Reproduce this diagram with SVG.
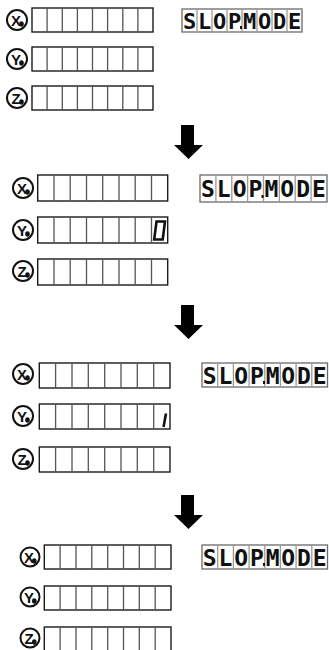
<svg xmlns="http://www.w3.org/2000/svg" width="329" height="650" viewBox="0 0 329 650">
<style>
.box{fill:#fff;stroke:#1a1a1a;stroke-width:1.4}
.div{fill:none;stroke:#555;stroke-width:1.3}
.lbox{fill:#fff;stroke:#6a6a6a;stroke-width:1.3}
.ldiv{fill:none;stroke:#9a9a9a;stroke-width:1.3}
.lcd{font-family:"DejaVu Sans Mono",monospace;font-weight:bold;font-size:23px;fill:#111;text-anchor:middle}
.lcd1{font-size:22px}
.ic{fill:#fff;stroke:#111;stroke-width:2}
.il{font-family:"Liberation Sans",Arial,sans-serif;font-weight:bold;font-size:15px;fill:#111;text-anchor:middle}
.sub{fill:#111}
.arrow{fill:#000}
.seg{fill:none;stroke:#111;stroke-width:2.6;stroke-linejoin:miter}
</style>
<rect width="329" height="650" fill="#fff"/>

<!-- Panel 1 -->
<g id="p1-x">
<circle class="ic" cx="17" cy="20" r="10"/><text class="il" x="16" y="25.5">X</text><ellipse class="sub" cx="21.5" cy="24" rx="2.3" ry="2.8"/>
<rect class="box" x="32" y="8" width="121" height="24"/>
<path class="div" d="M47.1,8v24M62.3,8v24M77.4,8v24M92.5,8v24M107.6,8v24M122.8,8v24M137.9,8v24"/>
</g>
<g id="p1-y">
<circle class="ic" cx="17" cy="59" r="10"/><text class="il" x="16" y="64.5">Y</text><ellipse class="sub" cx="21.5" cy="63" rx="2.3" ry="2.8"/>
<rect class="box" x="32" y="47" width="121" height="24"/>
<path class="div" d="M47.1,47v24M62.3,47v24M77.4,47v24M92.5,47v24M107.6,47v24M122.8,47v24M137.9,47v24"/>
</g>
<g id="p1-z">
<circle class="ic" cx="17" cy="98" r="10"/><text class="il" x="16" y="103.5">Z</text><ellipse class="sub" cx="21.5" cy="102" rx="2.3" ry="2.8"/>
<rect class="box" x="32" y="86" width="121" height="24"/>
<path class="div" d="M47.1,86v24M62.3,86v24M77.4,86v24M92.5,86v24M107.6,86v24M122.8,86v24M137.9,86v24"/>
</g>
<g id="p1-disp">
<rect class="lbox" x="182" y="9" width="120" height="23"/>
<path class="ldiv" d="M197,9v23M212,9v23M227,9v23M242,9v23M257,9v23M272,9v23M287,9v23"/>
<text class="lcd lcd1" x="189.5" y="28.5">S</text><text class="lcd lcd1" x="204.5" y="28.5">L</text><text class="lcd lcd1" x="219.5" y="28.5">O</text><text class="lcd lcd1" x="234.5" y="28.5">P</text>
<text class="lcd lcd1" x="249.5" y="28.5">M</text><text class="lcd lcd1" x="264.5" y="28.5">O</text><text class="lcd lcd1" x="279.5" y="28.5">D</text><text class="lcd lcd1" x="294.5" y="28.5">E</text>
<rect class="sub" x="240" y="26" width="2" height="3"/>
</g>

<!-- Panel 2 -->
<g id="p2-x">
<circle class="ic" cx="23" cy="188" r="10"/><text class="il" x="22" y="193.5">X</text><ellipse class="sub" cx="27.5" cy="192" rx="2.3" ry="2.8"/>
<rect class="box" x="37.7" y="175" width="130" height="26"/>
<path class="div" d="M54,175v26M70.2,175v26M86.5,175v26M102.7,175v26M119,175v26M135.2,175v26M151.5,175v26"/>
</g>
<g id="p2-y">
<circle class="ic" cx="23" cy="230" r="10"/><text class="il" x="22" y="235.5">Y</text><ellipse class="sub" cx="27.5" cy="234" rx="2.3" ry="2.8"/>
<rect class="box" x="37.7" y="217" width="130" height="26"/>
<path class="div" d="M54,217v26M70.2,217v26M86.5,217v26M102.7,217v26M119,217v26M135.2,217v26M151.5,217v26"/>
<polygon class="seg" points="156.5,221.5 165,221.5 162.7,239.5 154.2,239.5"/>
</g>
<g id="p2-z">
<circle class="ic" cx="23" cy="271" r="10"/><text class="il" x="22" y="276.5">Z</text><ellipse class="sub" cx="27.5" cy="275" rx="2.3" ry="2.8"/>
<rect class="box" x="37.7" y="259" width="130" height="26"/>
<path class="div" d="M54,259v26M70.2,259v26M86.5,259v26M102.7,259v26M119,259v26M135.2,259v26M151.5,259v26"/>
</g>
<g id="p2-disp">
<rect class="lbox" x="200" y="175" width="127" height="27"/>
<path class="ldiv" d="M215.9,175v27M231.8,175v27M247.6,175v27M263.5,175v27M279.4,175v27M295.2,175v27M311.1,175v27"/>
<text class="lcd" x="208" y="197">S</text><text class="lcd" x="223.8" y="197">L</text><text class="lcd" x="239.7" y="197">O</text><text class="lcd" x="255.5" y="197">P</text>
<text class="lcd" x="271.4" y="197">M</text><text class="lcd" x="287.3" y="197">O</text><text class="lcd" x="303.2" y="197">D</text><text class="lcd" x="319" y="197">E</text>
<rect class="sub" x="261.5" y="195" width="2" height="3"/>
</g>

<!-- Panel 3 -->
<g id="p3-x">
<circle class="ic" cx="23" cy="374" r="10"/><text class="il" x="22" y="379.5">X</text><ellipse class="sub" cx="27.5" cy="378" rx="2.3" ry="2.8"/>
<rect class="box" x="39.3" y="363" width="130.7" height="25"/>
<path class="div" d="M55.6,363v25M72,363v25M88.3,363v25M104.7,363v25M121,363v25M137.3,363v25M153.7,363v25"/>
</g>
<g id="p3-y">
<circle class="ic" cx="23" cy="416" r="10"/><text class="il" x="22" y="421.5">Y</text><ellipse class="sub" cx="27.5" cy="420" rx="2.3" ry="2.8"/>
<rect class="box" x="39.3" y="404" width="130.7" height="25"/>
<path class="div" d="M55.6,404v25M72,404v25M88.3,404v25M104.7,404v25M121,404v25M137.3,404v25M153.7,404v25"/>
<path class="seg" stroke-width="3" d="M166,413.5L163.5,427"/>
</g>
<g id="p3-z">
<circle class="ic" cx="23" cy="459" r="10"/><text class="il" x="22" y="464.5">Z</text><ellipse class="sub" cx="27.5" cy="463" rx="2.3" ry="2.8"/>
<rect class="box" x="39.3" y="447" width="130.7" height="25"/>
<path class="div" d="M55.6,447v25M72,447v25M88.3,447v25M104.7,447v25M121,447v25M137.3,447v25M153.7,447v25"/>
</g>
<g id="p3-disp">
<rect class="lbox" x="202" y="363" width="125.5" height="24"/>
<path class="ldiv" d="M217.7,363v24M233.4,363v24M249.1,363v24M264.8,363v24M280.4,363v24M296.1,363v24M311.8,363v24"/>
<text class="lcd" x="209.8" y="383.5">S</text><text class="lcd" x="225.5" y="383.5">L</text><text class="lcd" x="241.2" y="383.5">O</text><text class="lcd" x="256.9" y="383.5">P</text>
<text class="lcd" x="272.6" y="383.5">M</text><text class="lcd" x="288.3" y="383.5">O</text><text class="lcd" x="304" y="383.5">D</text><text class="lcd" x="319.6" y="383.5">E</text>
<rect class="sub" x="263" y="381" width="2" height="3"/>
</g>

<!-- Panel 4 -->
<g id="p4-x">
<circle class="ic" cx="30" cy="557" r="9.5"/><text class="il" x="29" y="562.5">X</text><ellipse class="sub" cx="34.3" cy="561" rx="2.3" ry="2.8"/>
<rect class="box" x="44.3" y="545" width="126.7" height="24"/>
<path class="div" d="M60.1,545v24M76,545v24M91.8,545v24M107.7,545v24M123.5,545v24M139.3,545v24M155.2,545v24"/>
</g>
<g id="p4-y">
<circle class="ic" cx="30" cy="597" r="9.5"/><text class="il" x="29" y="602.5">Y</text><ellipse class="sub" cx="34.3" cy="601" rx="2.3" ry="2.8"/>
<rect class="box" x="44.3" y="586" width="126.7" height="24"/>
<path class="div" d="M60.1,586v24M76,586v24M91.8,586v24M107.7,586v24M123.5,586v24M139.3,586v24M155.2,586v24"/>
</g>
<g id="p4-z">
<circle class="ic" cx="30" cy="638" r="9.5"/><text class="il" x="29" y="643.5">Z</text><ellipse class="sub" cx="34.3" cy="642" rx="2.3" ry="2.8"/>
<rect class="box" x="44.3" y="627" width="126.7" height="24"/>
<path class="div" d="M60.1,627v24M76,627v24M91.8,627v24M107.7,627v24M123.5,627v24M139.3,627v24M155.2,627v24"/>
</g>
<g id="p4-disp">
<rect class="lbox" x="202" y="545" width="125.5" height="24"/>
<path class="ldiv" d="M217.7,545v24M233.4,545v24M249.1,545v24M264.8,545v24M280.4,545v24M296.1,545v24M311.8,545v24"/>
<text class="lcd" x="209.8" y="565.5">S</text><text class="lcd" x="225.5" y="565.5">L</text><text class="lcd" x="241.2" y="565.5">O</text><text class="lcd" x="256.9" y="565.5">P</text>
<text class="lcd" x="272.6" y="565.5">M</text><text class="lcd" x="288.3" y="565.5">O</text><text class="lcd" x="304" y="565.5">D</text><text class="lcd" x="319.6" y="565.5">E</text>
<rect class="sub" x="263" y="563" width="2" height="3"/>
</g>

<!-- Connectors -->
<g id="connectors">
<polygon class="arrow" points="181,125 194,125 194,145 203,145 188.5,159 174,145 181,145"/>
<polygon class="arrow" points="181,305 194,305 194,325 203,325 188.5,339 174,325 181,325"/>
<polygon class="arrow" points="181,495 194,495 194,515 203,515 188.5,529 174,515 181,515"/>
</g>
</svg>
